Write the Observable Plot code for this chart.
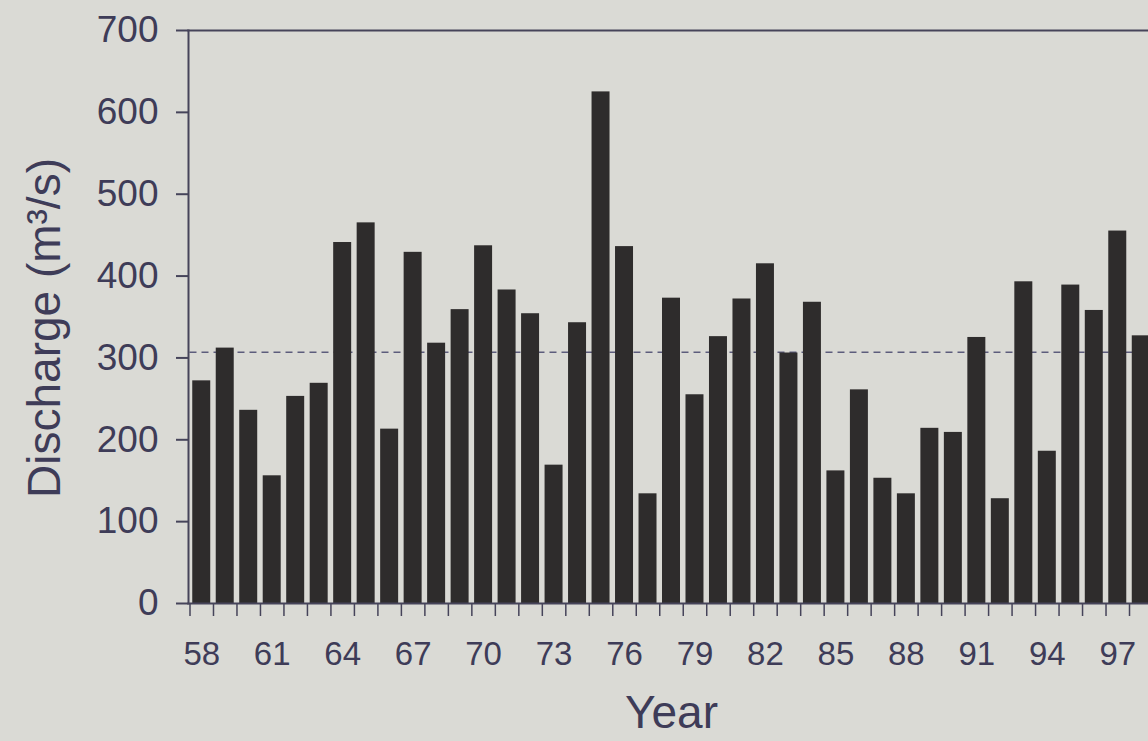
<!DOCTYPE html>
<html>
<head>
<meta charset="utf-8">
<script src="https://cdn.jsdelivr.net/npm/d3@7"></script>
<script src="https://cdn.jsdelivr.net/npm/@observablehq/plot@0.6"></script>
<style>
  html, body { margin: 0; padding: 0; background: #dadad5; overflow: hidden; }
  #chart svg { display: block; }
</style>
</head>
<body>
<div id="chart"></div>
<script>
// Categories (two-digit years) and annual discharge values
const years = [58, 59, 60, 61, 62, 63, 64, 65, 66, 67, 68, 69, 70, 71, 72, 73, 74, 75, 76, 77,
               78, 79, 80, 81, 82, 83, 84, 85, 86, 87, 88, 89, 90, 91, 92, 93, 94, 95, 96, 97, 98];
const discharge = [272, 312, 236, 156, 253, 269, 441, 465, 213, 429, 318, 359, 437, 383, 354, 169, 343, 625, 436, 134,
                   373, 255, 326, 372, 415, 306, 368, 162, 261, 153, 134, 214, 209, 325, 128, 393, 186, 389, 358, 455, 327];
const xTickLabels = [58, 61, 64, 67, 70, 73, 76, 79, 82, 85, 88, 91, 94, 97];
const yTicks = [0, 100, 200, 300, 400, 500, 600, 700];
const meanDischarge = 307;
const yLabel = "Discharge (m³/s)";
const xLabel = "Year";

const data = years.map((year, i) => ({year, q: discharge[i]}));
const boundaries = years.map(y => y - 0.5).concat([years[years.length - 1] + 0.5]);

const ink = "#3e3c58";
const axisInk = "#46445a";
const barFill = "#2e2c2c";

const chart = Plot.plot({
  width: 1148,
  height: 741,
  marginTop: 30,
  marginBottom: 138,
  marginLeft: 188,
  marginRight: 0,
  style: {background: "#dadad5", fontFamily: "'Liberation Sans', Arial, sans-serif", color: ink},
  x: {type: "linear", domain: [57.5, 98.5], range: [189.5, 1152.5]},
  y: {domain: [0, 700], range: [603, 30]},
  marks: [
    Plot.ruleY([meanDischarge], {x1: 57.5, x2: 98.5, stroke: "#5c5c7c", strokeWidth: 1.5, strokeDasharray: "7,5"}),
    Plot.rectY(data, {x1: d => d.year - 0.5, x2: d => d.year + 0.5, y1: 0, y2: "q", insetLeft: 2.75, insetRight: 2.75, fill: barFill}),
    Plot.frame({anchor: "left", stroke: axisInk, strokeWidth: 2}),
    Plot.frame({anchor: "top", stroke: axisInk, strokeWidth: 2}),
    Plot.frame({anchor: "bottom", stroke: axisInk, strokeWidth: 2}),
    Plot.axisY(yTicks, {tickSize: 12, tickPadding: 18, fontSize: 37, fill: ink, stroke: axisInk, strokeWidth: 2, strokeOpacity: 1, label: null, tickFormat: d => String(d)}),
    Plot.axisX(boundaries, {tickSize: 13, tickFormat: () => "", stroke: axisInk, strokeWidth: 1.5, strokeOpacity: 1, label: null}),
    Plot.axisX(xTickLabels, {tickSize: 0, tickPadding: 38, fontSize: 33, fill: ink, label: null, tickFormat: d => String(d)}),
    Plot.text([yLabel], {text: d => d, frameAnchor: "left", rotate: -90, dx: -143, dy: 11, fontSize: 46, fill: ink, textAnchor: "middle", lineAnchor: "middle"}),
    Plot.text([xLabel], {text: d => d, frameAnchor: "bottom", dx: 3, dy: 92, fontSize: 46, fill: ink, textAnchor: "middle", lineAnchor: "top"})
  ]
});
document.getElementById("chart").append(chart);
</script>
</body>
</html>
